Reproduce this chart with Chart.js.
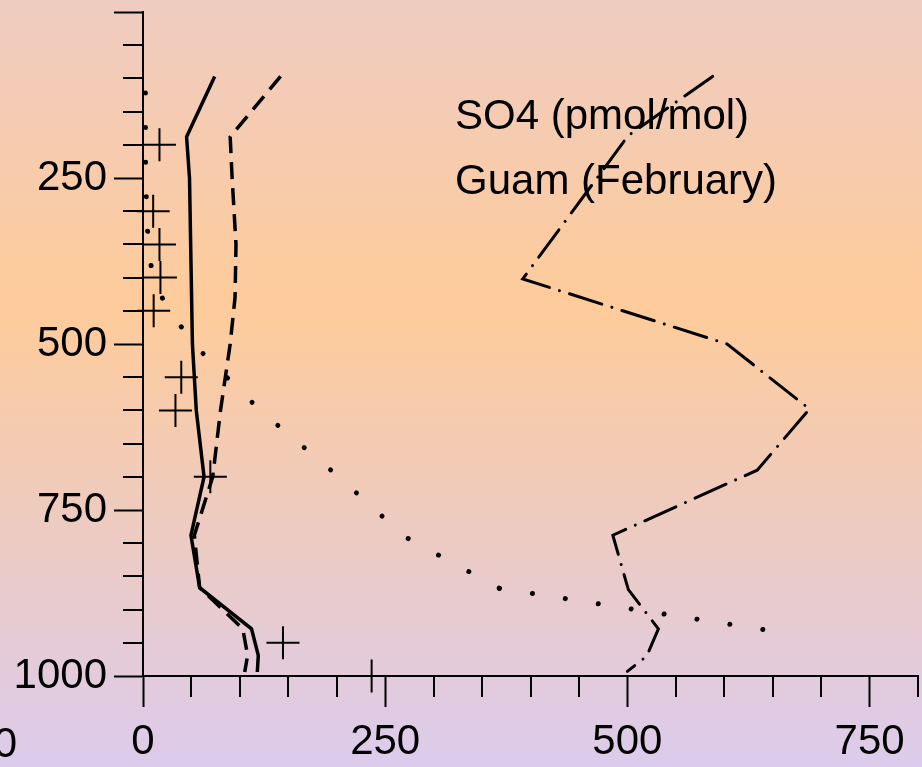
<!DOCTYPE html>
<html>
<head>
<meta charset="utf-8">
<script src="https://cdn.jsdelivr.net/npm/chart.js@4"></script>
<style>
    body { margin: 0; background: #fff; }
    #wrap { width: 922px; height: 767px; }
</style>
</head>
<body>
<div id="wrap"><canvas id="so4Chart" width="922" height="767"></canvas></div>
<script>
// pressure (hPa) / SO4 (pmol/mol) profiles
const solidP = [97, 188, 250, 500, 600, 700, 788, 867, 929, 969, 994]
const solidV = [74, 45, 48, 51, 55, 63, 49.5, 58.5, 112, 119, 118]

const dashedP = [97, 188, 250, 350, 430, 500, 600, 700, 788, 867, 929, 969, 994]
const dashedV = [142, 90, 92, 96, 95, 90, 80, 72, 53, 58.5, 103, 108, 105]

const dottedP = [122, 250, 340, 390, 438, 500, 600, 700, 790, 868, 930]
const dottedV = [2.5, 2.7, 5, 9, 22, 52, 121, 202, 270, 368, 640]

const dashDotP = [97, 186, 402, 500, 598, 690, 788, 870, 929, 970, 993]
const dashDotV = [588, 501, 392, 603, 688, 634, 485, 501, 532, 520, 500]

const obsP = [200, 300, 350, 400, 450, 550, 600, 700, 950, 1000]
const obsV = [17, 10.5, 17, 18, 11, 39.5, 33.5, 69.5, 144.5, 236]

const xTicks = [0, 250, 500, 750]
const yTicks = [0, 250, 500, 750, 1000]
const noteLines = ['SO4 (pmol/mol)', 'Guam (February)']

const FONT = '"Liberation Sans", Arial, sans-serif'

const toPoints = (vals, levels) => vals.map((v, i) => ({ x: v, y: levels[i] }))

const lineSet = (vals, levels, extra) => Object.assign({
    data: toPoints(vals, levels),
    showLine: true,
    borderColor: '#000',
    backgroundColor: '#000',
    pointRadius: 0,
    tension: 0,
    clip: false,
}, extra)

const decorPlugin = {
    id: 'decor',
    beforeDraw(chart) {
        const { ctx, width, height } = chart
        const g = ctx.createLinearGradient(0, 0, 0, height)
        g.addColorStop(0, '#EFCCC1')
        g.addColorStop(0.4, '#FECB9A')
        g.addColorStop(1, '#DCCBEC')
        ctx.save()
        ctx.fillStyle = g
        ctx.fillRect(0, 0, width, height)
        ctx.restore()
    },
    afterDraw(chart) {
        const { ctx, scales: { x, y } } = chart
        ctx.save()
        // minor ticks every 50
        ctx.strokeStyle = '#000'
        ctx.lineWidth = 2
        ctx.beginPath()
        for (let v = 50; v <= 800; v += 50) {
            if (v % 250 === 0) continue
            const px = Math.round(x.getPixelForValue(v))
            ctx.moveTo(px, y.bottom)
            ctx.lineTo(px, y.bottom + 21)
        }
        for (let v = 50; v < 1000; v += 50) {
            if (v % 250 === 0) continue
            const py = Math.round(y.getPixelForValue(v))
            ctx.moveTo(x.left - 20, py)
            ctx.lineTo(x.left, py)
        }
        ctx.stroke()

        ctx.fillStyle = '#000'
        ctx.font = '42px ' + FONT
        ctx.textBaseline = 'alphabetic'
        ctx.textAlign = 'left'
        ctx.fillText(noteLines[0], 455, 129)
        ctx.fillText(noteLines[1], 455, 194)
        ctx.textAlign = 'right'
        ctx.fillText('0', 17, 757)
        ctx.restore()
    }
}

const config = {
    type: 'scatter',
    data: {
        datasets: [
            lineSet(solidV, solidP, { borderWidth: 3.5 }),
            lineSet(dashedV, dashedP, { borderWidth: 3.5, borderDash: [17, 9] }),
            lineSet(dottedV, dottedP, {
                borderWidth: 5,
                borderDash: [0.01, 34.55],
                borderCapStyle: 'round',
                // the last stretch has slightly tighter dots
                segment: {
                    borderDash: (c) => c.p0DataIndex >= dottedV.length - 2 ? [0.01, 33.3] : undefined
                }
            }),
            lineSet(dashDotV, dashDotP, { borderWidth: 3, borderDash: [34, 10.5, 0.01, 10.5], borderCapStyle: 'round' }),
            {
                data: toPoints(obsV, obsP),
                showLine: false,
                pointStyle: 'cross',
                pointRadius: 16.5,
                borderWidth: 2,
                borderColor: '#000',
                clip: false,
            }
        ]
    },
    options: {
        responsive: false,
        animation: false,
        events: [],
        layout: { autoPadding: false, padding: { top: 12, right: 4, left: 0, bottom: 0 } },
        plugins: { legend: { display: false }, tooltip: { enabled: false } },
        scales: {
            x: {
                type: 'linear',
                min: 0,
                max: 800,
                afterFit: (s) => { s.height = 91; s.paddingLeft = 0; s.paddingRight = 0 },
                afterBuildTicks: (s) => { s.ticks = xTicks.map(v => ({ value: v })) },
                border: { color: '#000', width: 2 },
                grid: { drawOnChartArea: false, tickLength: 31, tickWidth: 2, tickColor: '#000' },
                ticks: { color: '#000', padding: 10, maxRotation: 0, font: { size: 42, family: FONT } }
            },
            y: {
                type: 'linear',
                min: 0,
                max: 1000,
                reverse: true,
                afterFit: (s) => { s.width = 143; s.paddingTop = 0; s.paddingBottom = 0 },
                afterBuildTicks: (s) => { s.ticks = yTicks.map(v => ({ value: v })) },
                border: { color: '#000', width: 2 },
                grid: { drawOnChartArea: false, tickLength: 29, tickWidth: 2, tickColor: '#000' },
                ticks: {
                    color: '#000',
                    padding: 7,
                    font: { size: 42, family: FONT },
                    callback: (v) => v === 0 ? '' : String(v)
                }
            }
        }
    },
    plugins: [decorPlugin]
}

new Chart(document.getElementById('so4Chart'), config)
</script>
</body>
</html>
